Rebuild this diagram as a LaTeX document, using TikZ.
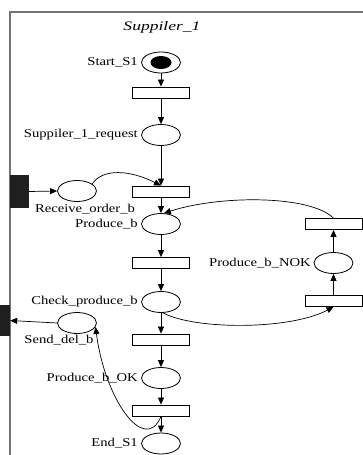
\documentclass[tikz,border=0pt]{standalone}
\usepackage{fontspec}
\newfontfamily\lblfont[FakeStretch=1.22]{Liberation Serif}
\newfontfamily\titlefont[FakeStretch=1.35]{Liberation Serif Italic}
\usetikzlibrary{arrows.meta,positioning,shapes.geometric}
\begin{document}
\begin{tikzpicture}[x=1pt,y=-1pt,
 place/.style={draw, ellipse, minimum width=39pt, minimum height=21pt, inner sep=0pt, line width=0.8pt},
 trans/.style={draw, rectangle, minimum width=57pt, minimum height=11pt, inner sep=0pt, line width=0.8pt},
 port/.style={fill=black!88, draw=none, inner sep=0pt},
 lbl/.style={font=\lblfont\fontsize{12}{14}\selectfont, inner sep=0pt},
 arc/.style={-{Triangle[length=7pt,width=6pt]}, line width=0.7pt},
 frame/.style={draw=black!55, line width=1.5pt}]
\useasboundingbox (0,0) rectangle (363,455);
\draw[frame] (10,455) -- (10,12) -- (363,12);
\node[font=\titlefont\fontsize{13}{15}\selectfont, inner sep=0pt] (title) at (162,27) {Suppiler\_1};
% places
\node[place] (start) at (161,62.5) {};
\node[fill=black, ellipse, minimum width=21pt, minimum height=13pt, inner sep=0pt] (tok) at (start.center) {};
\node[place] (req) at (161,135) {};
\node[place] (recv) at (77,191) {};
\node[place] (prod) at (161,224) {};
\node[place] (check) at (161,302) {};
\node[place] (ok) at (161,378) {};
\node[place] (pend) at (161,443.5) {};
\node[place] (send) at (77,323) {};
\node[place] (nok) at (333.5,263) {};
% transitions
\node[trans] (t1) at (161,92.5) {};
\node[trans] (t2) at (161,191.5) {};
\node[trans] (t3) at (161,263) {};
\node[trans] (t4) at (161,339.5) {};
\node[trans] (t5) at (161,410.5) {};
\node[trans] (tr1) at (333.5,224) {};
\node[trans] (tr2) at (333.5,301) {};
% ports
\node[port, minimum width=19pt, minimum height=33pt] (pin) at (19.5,191.5) {};
\node[port, minimum width=10pt, minimum height=31pt] (pout) at (5,320.5) {};
% labels
\node[lbl, anchor=east] (lstart) at (138,62.5) {Start\_S1};
\node[lbl, anchor=east] (lreq) at (138,135) {Suppiler\_1\_request};
\node[lbl] (lrecv) at (85,209) {Receive\_order\_b};
\node[lbl, anchor=east] (lprod) at (138,224) {Produce\_b};
\node[lbl, anchor=east] (lcheck) at (138,302) {Check\_produce\_b};
\node[lbl] (lsend) at (59,340) {Send\_del\_b};
\node[lbl, anchor=east] (lok) at (138,378) {Produce\_b\_OK};
\node[lbl, anchor=east] (lend) at (138,443.5) {End\_S1};
\node[lbl, anchor=east] (lnok) at (311,263) {Produce\_b\_NOK};
% arcs
\draw[arc] (start) -- (t1);
\draw[arc] (t1) -- (req);
\draw[arc] (req) -- (t2);
\draw[arc] (t2) -- (prod);
\draw[arc] (prod) -- (t3);
\draw[arc] (t3) -- (check);
\draw[arc] (check) -- (t4);
\draw[arc] (t4) -- (ok);
\draw[arc] (ok) -- (t5);
\draw[arc] (t5) -- (pend);
\draw[arc] (tr2) -- (nok);
\draw[arc] (nok) -- (tr1);
\draw[arc] (pin.east) -- (recv.west);
\draw[arc] (send.west) -- (pout.east);
\draw[arc] (recv.25) .. controls (103,168) and (130,170) .. (t2.north);
\draw[arc] (tr1.north) .. controls (310,195) and (220,195) .. (prod.75);
\draw[arc] (check.-80) .. controls (195,330) and (290,330) .. (tr2.south);
\draw[arc] (t5.south) .. controls (145,455) and (105,400) .. (send.-12);
\end{tikzpicture}
\end{document}
